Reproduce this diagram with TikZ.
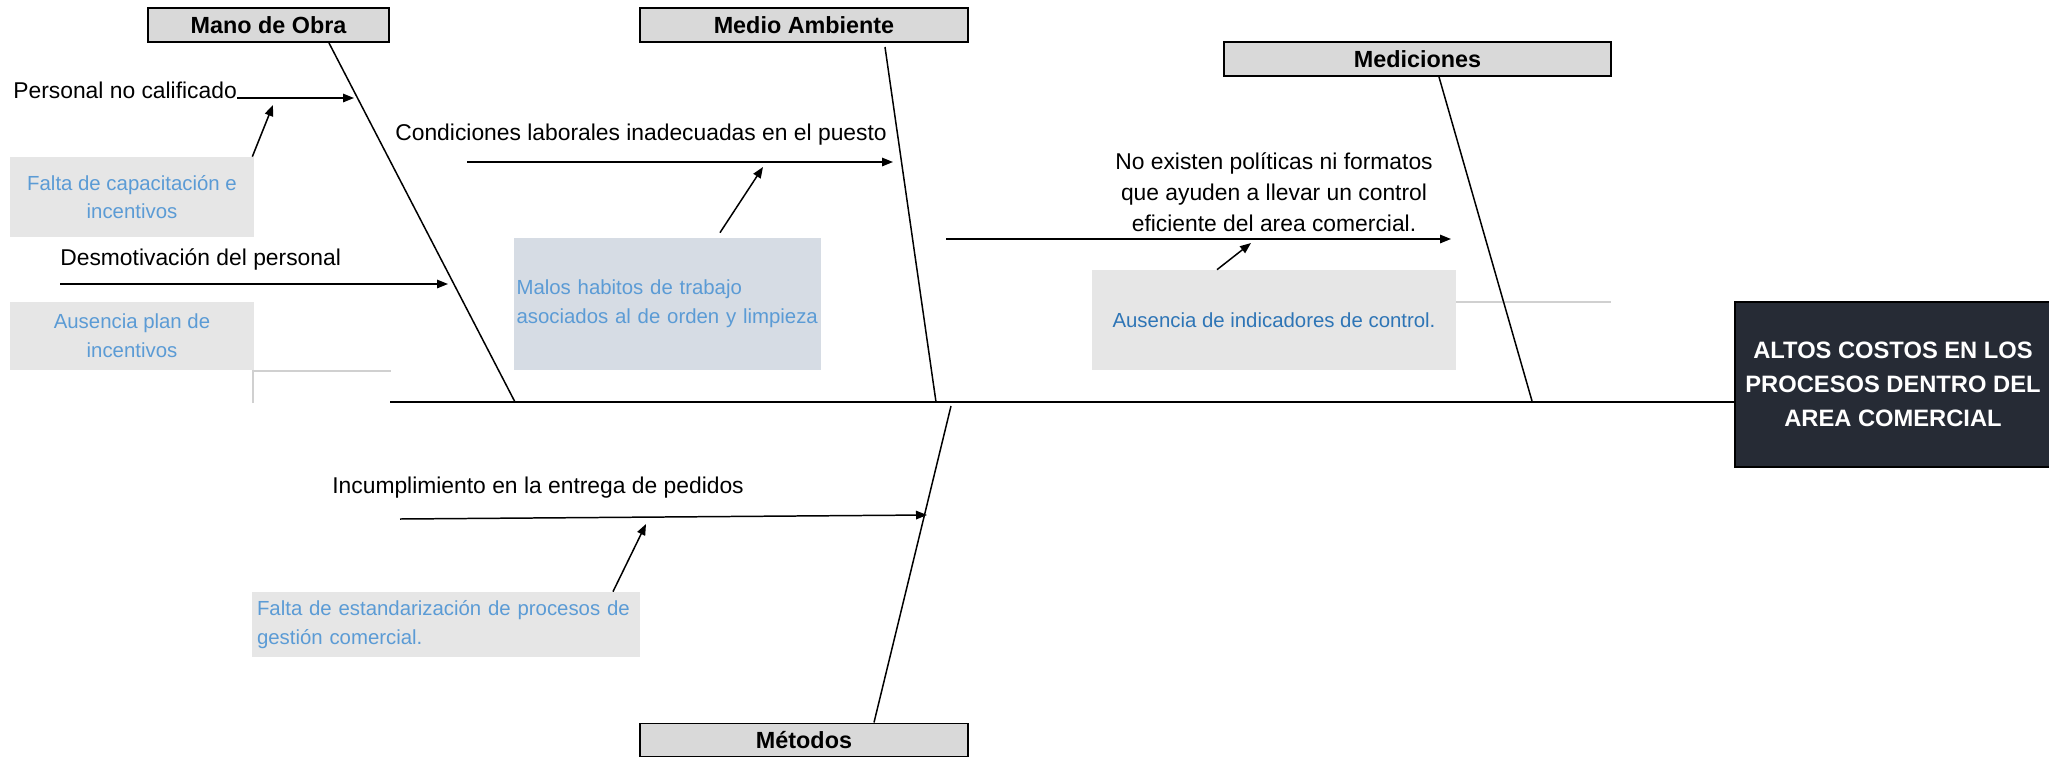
\documentclass[tikz,border=0pt]{standalone}
\usepackage{fontspec}
\setmainfont{Liberation Sans}
\usetikzlibrary{arrows.meta}
\definecolor{azulclaro}{HTML}{5B9BD5}
\definecolor{azulosc}{HTML}{2E75B6}
\definecolor{grisbox}{HTML}{E6E6E6}
\definecolor{griscab}{HTML}{D9D9D9}
\definecolor{grisazul}{HTML}{D6DCE4}
\definecolor{fondoef}{HTML}{262B35}
\definecolor{grislinea}{HTML}{D0D0D0}
\begin{document}
\begin{tikzpicture}[x=0.02cm,y=-0.02cm,
		categoria/.style={draw,line width=1.1pt,fill=griscab,minimum width=6.56cm,minimum height=0.68cm,inner sep=0pt,font=\fontsize{13.3}{16}\selectfont\bfseries},
		causa/.style={inner sep=0pt,font=\fontsize{13}{17.6}\selectfont},
		subcausa/.style={fill=grisbox,text=azulclaro,inner sep=0pt,align=center,font=\fontsize{11.6}{16.4}\selectfont},
		hueso/.style={line width=0.85pt},
		flecha/.style={line width=0.85pt,-{Triangle[length=0.22cm,width=0.17cm]}},]

\useasboundingbox (0,0) rectangle (2049,758);

\draw[grislinea,line width=0.8pt] (253,403) -- (253,371) -- (391,371);
\draw[grislinea,line width=0.8pt] (1456,302) -- (1611,302);

\node[categoria,minimum width=4.82cm] (mano) at (268.5,25) {Mano de Obra};
\node[categoria] (medio) at (804,25) {Medio Ambiente};
\node[categoria,minimum width=7.74cm] (medic) at (1417.5,59) {Mediciones};
\node[categoria,minimum height=0.66cm] (metodos) at (804,740) {Métodos};

\node[draw,line width=1.1pt,fill=fondoef,text=white,minimum width=6.32cm,minimum height=3.3cm,
	align=center,font=\fontsize{13.5}{19.3}\selectfont\bfseries] (efecto) at (1893,384.5)
	{ALTOS COSTOS EN LOS\\PROCESOS DENTRO DEL\\AREA COMERCIAL};

\coordinate (cola) at (390,402);
\draw[line width=1.4pt] (cola) -- (cola -| efecto.west);

\coordinate (pMano) at (515,402);
\coordinate (pMedio) at (936,402);
\coordinate (pMedic) at (1532,401);
\coordinate (pMet) at (951,406);
\draw[hueso] ([xshift=1.21cm]mano.south) -- (pMano);
\draw[hueso] ([xshift=1.62cm,yshift=-0.08cm]medio.south) -- (pMedio);
\draw[hueso] ([xshift=0.43cm]medic.south) -- (pMedic);
\draw[hueso] ([xshift=1.4cm]metodos.north) -- (pMet);

\node[causa,anchor=base west] (pers) at (13,98) {Personal no calificado};
\coordinate (hPers) at (354,98);
\draw[flecha] (pers.base east) -- (hPers);
\node[subcausa,minimum width=4.88cm,minimum height=1.6cm] (cap) at (132,197) {Falta de capacitación e\\incentivos};
\coordinate (hCap) at (273,105);
\draw[flecha] ([xshift=-0.04cm]cap.north east) -- (hCap);

\node[causa,anchor=base west] (desm) at (60,265) {Desmotivación del personal};
\coordinate (tDesm) at (60,284);
\coordinate (hDesm) at (448,284);
\draw[flecha] (tDesm) -- (hDesm);
\node[subcausa,minimum width=4.88cm,minimum height=1.36cm] (ausPlan) at (132,336) {Ausencia plan de\\incentivos};

\node[causa,anchor=base west] (cond) at (395,140) {Condiciones laborales inadecuadas en el puesto};
\coordinate (tCond) at (467,162);
\coordinate (hCond) at (893,162);
\draw[flecha] (tCond) -- (hCond);
\node[subcausa,fill=grisazul,align=left,text width=6.04cm,inner xsep=0.05cm,minimum height=2.64cm] (malos) at (667.5,304)
	{Malos habitos de trabajo\\asociados al de orden y limpieza};
\coordinate (hMalos) at (763,167);
\draw[flecha] ([xshift=1.05cm,yshift=0.1cm]malos.north) -- (hMalos);

\node[causa,align=center] (noex) at (1274,192) {No existen políticas ni formatos\\que ayuden a llevar un control\\eficiente del area comercial.};
\coordinate (tNoex) at (946,239);
\coordinate (hNoex) at (1451,239);
\draw[flecha] (tNoex) -- (hNoex);
\node[subcausa,text=azulosc,minimum width=7.28cm,minimum height=2cm] (indic) at (1274,320) {Ausencia de indicadores de control.};
\coordinate (hIndic) at (1251,243);
\draw[flecha] ([xshift=-1.14cm]indic.north) -- (hIndic);

\node[causa,anchor=base west] (incum) at (332,493) {Incumplimiento en la entrega de pedidos};
\coordinate (tIncum) at (400,519);
\coordinate (hIncum) at (927,515);
\draw[flecha] (tIncum) -- (hIncum);
\node[subcausa,align=left,text width=7.56cm,inner xsep=0.1cm,minimum height=1.3cm] (estand) at (446,624.5)
	{Falta de estandarización de procesos de\\gestión comercial.};
\coordinate (hEst) at (646,524);
\draw[flecha] ([xshift=3.34cm]estand.north) -- (hEst);
\end{tikzpicture}
\end{document}
